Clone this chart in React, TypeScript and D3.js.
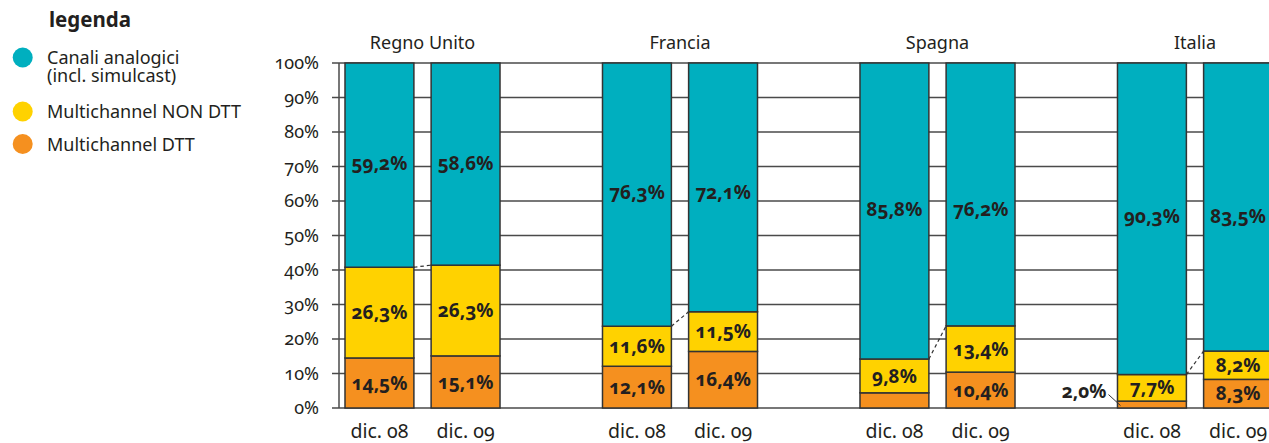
import React from "react";
import * as d3 from "d3";

const countries = ["Regno Unito", "Francia", "Spagna", "Italia"];
const periods = ["dic. 08", "dic. 09"];
// values per country, [dic.08, dic.09]
const dttValues = [[14.5, 15.1], [12.1, 16.4], [4.4, 10.4], [2.0, 8.3]];
const nonDttValues = [[26.3, 26.3], [11.6, 11.5], [9.8, 13.4], [7.7, 8.2]];
const analogValues = [[59.2, 58.6], [76.3, 72.1], [85.8, 76.2], [90.3, 83.5]];
const yTicks = [0, 10, 20, 30, 40, 50, 60, 70, 80, 90, 100];
const seriesNames = ["Canali analogici|(incl. simulcast)", "Multichannel NON DTT", "Multichannel DTT"];

const COLORS = { analog: "#00AFBF", non: "#FFD200", dtt: "#F5901F" };
const TEXT = "#231F20";
const FONT = "'Noto Sans', sans-serif";

const fmt = (v: number) => v.toFixed(1).replace(".", ",") + "%";

export default function App() {
  const W = 1269, H = 443;
  const y = d3.scaleLinear().domain([0, 100]).range([408, 63]);
  const outer = d3.scaleBand<string>().domain(countries).range([345, 1272.5]).paddingInner(0.398).paddingOuter(0);
  const inner = d3.scaleBand<string>().domain(periods).range([0, outer.bandwidth()]).paddingInner(0.2).paddingOuter(0);
  const bw = inner.bandwidth();

  const bars: any[] = [];
  countries.forEach((c, ci) => {
    periods.forEach((p, pi) => {
      const x = (outer(c) as number) + (inner(p) as number);
      const d = dttValues[ci][pi], n = nonDttValues[ci][pi], a = analogValues[ci][pi];
      bars.push({ c, ci, p, pi, x, d, n, a });
    });
  });

  const numStyle: React.CSSProperties = { fontVariantNumeric: "oldstyle-nums", fontFeatureSettings: "'onum' 1" };

  return (
    <svg width={W} height={H} style={{ position: "absolute", left: 0, top: 0, fontFamily: FONT }}>
      <rect x={0} y={0} width={W} height={H} fill="#fff" />
      {/* legend */}
      <text x={49} y={27} fontSize={20.5} fontWeight={700} fill={TEXT}>legenda</text>
      {[COLORS.analog, COLORS.non, COLORS.dtt].map((col, i) => {
        const cy = [57.5, 111.5, 144][i];
        const lines = seriesNames[i].split("|");
        return (
          <g key={i}>
            <circle cx={22.7} cy={cy} r={10} fill={col} />
            <text x={47} y={cy + 6.5} fontSize={18} fill={TEXT}>
              {lines.map((l, li) => (
                <tspan key={li} x={47} dy={li === 0 ? 0 : 17.5}>{l}</tspan>
              ))}
            </text>
          </g>
        );
      })}
      {/* grid */}
      {yTicks.map((t) => (
        <g key={t}>
          <line x1={332} x2={W} y1={y(t)} y2={y(t)} stroke="#4a4a4a" strokeWidth={1.5} />
          <text x={319} y={y(t)} dy="0.35em" textAnchor="end" fontSize={18} fill={TEXT} style={numStyle}>{t}%</text>
        </g>
      ))}
      <line x1={339} x2={339} y1={y(100)} y2={y(0)} stroke="#4a4a4a" strokeWidth={1.5} />
      {/* country labels */}
      {countries.map((c) => (
        <text key={c} x={(outer(c) as number) + outer.bandwidth() / 2} y={49} textAnchor="middle" fontSize={18} fill={TEXT}>{c}</text>
      ))}
      {/* bars */}
      {bars.map((b, i) => (
        <g key={i}>
          <rect x={b.x} y={y(b.d)} width={bw} height={y(0) - y(b.d)} fill={COLORS.dtt} stroke="#333" strokeWidth={1.5} />
          <rect x={b.x} y={y(b.d + b.n)} width={bw} height={y(b.d) - y(b.d + b.n)} fill={COLORS.non} stroke="#333" strokeWidth={1.5} />
          <rect x={b.x} y={y(100)} width={bw} height={y(b.d + b.n) - y(100)} fill={COLORS.analog} stroke="#333" strokeWidth={1.5} />
          <text x={b.x + bw / 2} y={y(b.d + b.n / 2)} dy="0.35em" textAnchor="middle" fontSize={19} fontWeight={700} fill={TEXT} style={numStyle}>{fmt(b.n)}</text>
          {b.d >= 5 && (
            <text x={b.x + bw / 2} y={y(b.d / 2)} dy="0.35em" textAnchor="middle" fontSize={19} fontWeight={700} fill={TEXT} style={numStyle}>{fmt(b.d)}</text>
          )}
          {b.d < 3 && (
            <g>
              <text x={b.x - 11} y={y(b.d / 2) - 13} dy="0.35em" textAnchor="end" fontSize={19} fontWeight={700} fill={TEXT} style={numStyle}>{fmt(b.d)}</text>
              <line x1={b.x - 9} y1={y(b.d / 2) - 10} x2={b.x + 3} y2={y(b.d / 2) + 1} stroke="#333" strokeWidth={1} />
            </g>
          )}
          {(() => {
            const ci = b.ci;
            const base = dttValues[ci][0] + nonDttValues[ci][0];
            const ly = y((base + 100) / 2) - 2;
            return (
              <text x={b.x + bw / 2} y={ly} dy="0.35em" textAnchor="middle" fontSize={19} fontWeight={700} fill={TEXT} style={numStyle}>{fmt(b.a)}</text>
            );
          })()}
          <text x={b.x + bw / 2} y={438} textAnchor="middle" fontSize={19.5} fill={TEXT} style={numStyle}>{b.p}</text>
        </g>
      ))}
      {/* connectors */}
      {countries.map((c, ci) => {
        const x1 = (outer(c) as number) + (inner(periods[0]) as number) + bw;
        const x2 = (outer(c) as number) + (inner(periods[1]) as number);
        const y1 = y(dttValues[ci][0] + nonDttValues[ci][0]);
        const y2 = y(dttValues[ci][1] + nonDttValues[ci][1]);
        return <line key={c} x1={x1} y1={y1} x2={x2} y2={y2} stroke="#333" strokeWidth={1.2} strokeDasharray="3.5,3" />;
      })}
    </svg>
  );
}
